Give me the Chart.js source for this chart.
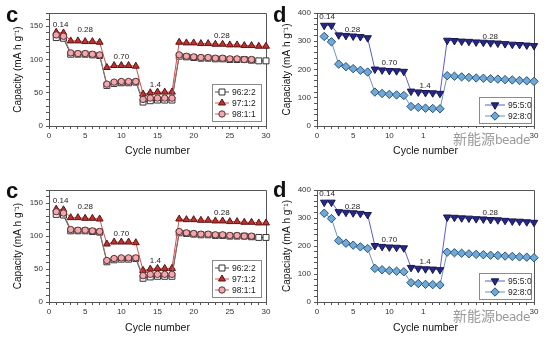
<!DOCTYPE html>
<html lang="en">
<head>
<meta charset="UTF-8" />
<title>Rate capability</title>
<style>
  body {
    margin: 0;
    width: 558px;
    height: 338px;
    overflow: hidden;
    position: relative;
    background: #fff;
    font-family: 'Liberation Sans', Arial, sans-serif;
  }
  canvas { position: absolute; }
  .tag {
    position: absolute;
    font: bold 22px 'Liberation Sans', Arial, sans-serif;
    line-height: 21px;
    color: #111;
    z-index: 2;
  }
  .mark {
    position: absolute;
    background: #fff;
    color: #9a9a9a;
    z-index: 2;
    white-space: nowrap;
    line-height: 16px;
  }
  .mark .cn { font: 14px 'Noto Sans CJK SC', sans-serif; }
  .mark .en { font: 12px 'DejaVu Sans', sans-serif; letter-spacing: -0.5px; }
</style>
</head>
<body>
  <canvas id="c1" width="279" height="165" style="left:0;top:0"></canvas>
  <canvas id="d1" width="279" height="165" style="left:279px;top:0"></canvas>
  <canvas id="c2" width="279" height="173" style="left:0;top:165px"></canvas>
  <canvas id="d2" width="279" height="173" style="left:279px;top:165px"></canvas>

  <div class="tag" style="left:6px;top:4px">c</div>
  <div class="tag" style="left:273px;top:4px">d</div>
  <div class="tag" style="left:6px;top:180px">c</div>
  <div class="tag" style="left:273px;top:179px">d</div>

  <div class="mark" style="left:426px;top:128px;width:102px;height:17px;padding-left:27px;box-sizing:border-box"><span class="cn">新能源</span><span class="en">beade</span></div>
  <div class="mark" style="left:426px;top:305px;width:102px;height:17px;padding-left:27px;box-sizing:border-box"><span class="cn">新能源</span><span class="en">beade</span></div>

  <script src="https://cdn.jsdelivr.net/npm/chart.js"></script>
  <script>
    // cycle index shared by every series
    const cycles = [1, 2, 3, 4, 5, 6, 7, 8, 9, 10, 11, 12, 13, 14, 15,
                    16, 17, 18, 19, 20, 21, 22, 23, 24, 25, 26, 27, 28, 29, 30];

    // panel c
    const namesC = ['96:2:2', '97:1:2', '98:1:1'];
    const cap962 = [133, 132, 108, 108, 108, 107, 106, 61, 64, 65, 65, 66, 36, 38, 39, 39, 39,
                    105, 104, 103, 102, 102, 101, 101, 100, 100, 100, 99, 98, 98];
    const cap972 = [141, 140, 128, 128, 127, 127, 126, 88, 91, 91, 91, 90, 48, 50, 51, 51, 51,
                    126, 125, 125, 124, 124, 123, 123, 122, 122, 121, 121, 120, 120];
    const cap981 = [137, 135, 110, 109, 109, 108, 107, 63, 66, 67, 67, 67, 40, 42, 42, 42, 42,
                    107, 105, 104, 103, 103, 102, 102, 101, 101, 100, 100, null, null];

    // panel d
    const namesD = ['95:5:0', '92:8:0'];
    const cap950 = [356, 356, 322, 320, 318, 316, 312, 201, 198, 196, 195, 193, 123, 120, 118, 117, 115,
                    303, 302, 300, 299, 297, 296, 294, 293, 291, 289, 288, 286, 284];
    const cap920 = [317, 298, 219, 210, 203, 197, 191, 120, 115, 112, 110, 108, 69, 66, 63, 62, 61,
                    178, 176, 174, 172, 170, 169, 167, 166, 164, 163, 161, 160, 158];

    // current rate labels
    const rates = ['0.14', '0.28', '0.70', '1.4', '0.28'];

    const FONT = "'Liberation Sans', Arial, sans-serif";
    const AXIS = '#555';

    function series(vals) {
      return cycles.map((c, i) => ({ x: c, y: vals[i] }));
    }

    const styleC = [
      { line: '#4a4a4a', fill: '#ffffff', edge: '#333333', pointStyle: 'rect', rotation: 0, radius: 4.2, order: 3 },
      { line: '#d2504c', fill: '#c0302c', edge: '#5a1414', pointStyle: 'triangle', rotation: 0, radius: 4, order: 2 },
      { line: '#9a7070', fill: '#f2a6ae', edge: '#5a3434', pointStyle: 'circle', rotation: 0, radius: 3.2, order: 1 }
    ];
    const styleD = [
      { line: '#5c5cd6', fill: '#27278a', edge: '#16164f', pointStyle: 'triangle', rotation: 180, radius: 4.3, order: 1 },
      { line: '#6f8fc0', fill: '#6fa9d8', edge: '#27507c', pointStyle: 'rectRot', rotation: 0, radius: 4.2, order: 2 }
    ];

    function datasets(names, values, styles) {
      return names.map((n, i) => ({
        label: n,
        data: series(values[i]),
        borderColor: styles[i].line,
        borderWidth: 1,
        pointStyle: styles[i].pointStyle,
        rotation: styles[i].rotation,
        pointRadius: styles[i].radius,
        pointBackgroundColor: styles[i].fill,
        pointBorderColor: styles[i].edge,
        pointBorderWidth: 1,
        order: styles[i].order,
        clip: false,
        spanGaps: false
      }));
    }

    // box around plot area
    const framePlugin = {
      id: 'frame',
      beforeDatasetsDraw(chart) {
        const a = chart.chartArea, ctx = chart.ctx;
        ctx.save();
        ctx.strokeStyle = AXIS;
        ctx.lineWidth = 1;
        ctx.beginPath();
        ctx.moveTo(a.left, a.top + 0.5);
        ctx.lineTo(a.right + 0.5, a.top + 0.5);
        ctx.lineTo(a.right + 0.5, a.bottom);
        ctx.stroke();
        ctx.restore();
      }
    };

    // rate annotations
    const ratePlugin = {
      id: 'rates',
      afterDatasetsDraw(chart, args, opts) {
        const ctx = chart.ctx, sx = chart.scales.x, sy = chart.scales.y;
        ctx.save();
        ctx.font = '8px ' + FONT;
        ctx.fillStyle = '#222';
        ctx.textAlign = 'center';
        ctx.textBaseline = 'middle';
        opts.at.forEach((p, i) => {
          ctx.fillText(rates[i], sx.getPixelForValue(p[0]), sy.getPixelForValue(p[1]));
        });
        ctx.restore();
      }
    };

    // legend box inside the lower right of the plot
    const boxLegend = {
      id: 'boxLegend',
      afterDraw(chart, args, opts) {
        const a = chart.chartArea, ctx = chart.ctx;
        const sets = chart.data.datasets;
        const rowH = 11;
        const w = opts.width, h = sets.length * rowH + 4;
        const x0 = a.right - opts.gap - w, y0 = a.bottom - opts.gap - h;
        ctx.save();
        ctx.fillStyle = '#fff';
        ctx.fillRect(x0, y0, w, h);
        ctx.strokeStyle = '#8a8a8a';
        ctx.lineWidth = 1;
        ctx.strokeRect(Math.round(x0) + 0.5, Math.round(y0) + 0.5, w, h);
        sets.forEach((ds, i) => {
          const y = y0 + 2 + rowH * i + rowH / 2 + 0.5;
          const lx = x0 + opts.lineFrom;
          ctx.strokeStyle = ds.borderColor;
          ctx.beginPath();
          ctx.moveTo(lx, y);
          ctx.lineTo(lx + opts.lineLen, y);
          ctx.stroke();
          ctx.fillStyle = ds.pointBackgroundColor;
          ctx.strokeStyle = ds.pointBorderColor;
          Chart.helpers.drawPoint(ctx, {
            pointStyle: ds.pointStyle, rotation: ds.rotation,
            radius: ds.pointRadius, borderWidth: 1
          }, lx + opts.lineLen / 2, y);
          ctx.fillStyle = '#222';
          ctx.font = '8.5px ' + FONT;
          ctx.textAlign = 'left';
          ctx.textBaseline = 'middle';
          ctx.fillText(ds.label, lx + opts.lineLen + 3, y + 0.5);
        });
        ctx.restore();
      }
    };

    function makePanel(id, p) {
      new Chart(document.getElementById(id), {
        type: 'line',
        data: { datasets: p.datasets },
        options: {
          responsive: false,
          animation: false,
          devicePixelRatio: 1,
          layout: { autoPadding: false, padding: { left: 0, top: p.top, right: p.right, bottom: 0 } },
          plugins: {
            legend: { display: false },
            tooltip: { enabled: false },
            rates: { at: p.rateAt },
            boxLegend: p.legend
          },
          scales: {
            x: {
              type: 'linear', min: 0, max: 30,
              afterFit: s => { s.height = p.xH; },
              ticks: {
                stepSize: 1, autoSkip: false, maxRotation: 0, padding: 2,
                color: '#333', font: { family: FONT, size: 8 },
                callback: v => (v % 5 === 0 ? v : '')
              },
              grid: { drawOnChartArea: false, tickLength: 3, color: AXIS },
              border: { color: AXIS },
              title: {
                display: true, text: 'Cycle number', color: '#111',
                font: { family: FONT, size: 10.5 }, padding: { top: 0, bottom: p.xTitlePad }
              }
            },
            y: {
              min: 0, max: p.yMax,
              afterFit: s => { s.width = p.yW; },
              ticks: {
                stepSize: p.yStep, autoSkip: false, padding: 3,
                color: '#333', font: { family: FONT, size: 8 },
                callback: v => (v % p.yMajor === 0 ? v : '')
              },
              grid: { drawOnChartArea: false, tickLength: 3, color: AXIS },
              border: { color: AXIS },
              title: {
                display: true, text: p.yTitle, color: '#111',
                font: { family: FONT, size: 10 }, padding: { top: p.yTitlePad, bottom: 0 }
              }
            }
          }
        },
        plugins: [framePlugin, ratePlugin, boxLegend]
      });
    }

    const cPanel = {
      yMax: 170, yStep: 10, yMajor: 50, yW: 49, right: 13, yTitlePad: 12,
      yTitle: 'Capacity (mA h g\u207B\u00B9)',
      rateAt: [[1.6, 153], [5, 145], [10, 104], [14.7, 62], [23.9, 135]],
      legend: { width: 49, gap: 5, lineFrom: 3, lineLen: 14 }
    };
    const dPanel = {
      yMax: 400, yStep: 20, yMajor: 100, yW: 38, right: 24, yTitlePad: 2,
      yTitle: 'Capaciaty (mA h g\u207B\u00B9)',
      rateAt: [[1.4, 386], [4.9, 341], [10, 222], [14.95, 144], [23.95, 317]],
      legend: { width: 52, gap: 3, lineFrom: 6, lineLen: 20 }
    };

    makePanel('c1', Object.assign({}, cPanel, {
      top: 13, xH: 39, xTitlePad: 8,
      datasets: datasets(namesC, [cap962, cap972, cap981], styleC)
    }));
    makePanel('d1', Object.assign({}, dPanel, {
      top: 13, xH: 39, xTitlePad: 8,
      datasets: datasets(namesD, [cap950, cap920], styleD)
    }));
    makePanel('c2', Object.assign({}, cPanel, {
      top: 25, xH: 36, xTitlePad: 4,
      datasets: datasets(namesC, [cap962, cap972, cap981], styleC)
    }));
    makePanel('d2', Object.assign({}, dPanel, {
      top: 25, xH: 36, xTitlePad: 4,
      datasets: datasets(namesD, [cap950, cap920], styleD)
    }));
  </script>
</body>
</html>
